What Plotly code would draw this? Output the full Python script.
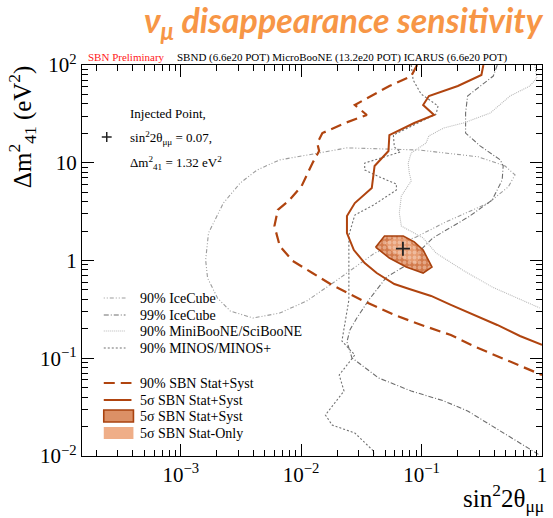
import plotly.graph_objects as go

# ---------------- data ----------------
# SBN 90% Stat+Syst (dashed)
sbn90_x = [0.0918, 0.082, 0.054, 0.0279, 0.0351, 0.0231, 0.0150, 0.0136, 0.0141, 0.0124, 0.0101, 0.0080,
           0.0064, 0.0060, 0.00664, 0.00849, 0.0124, 0.0181, 0.0318, 0.0594, 0.105, 0.175, 0.270, 0.425, 0.619, 1.0]
sbn90_y = [100, 77, 61, 39, 30.8, 25.5, 20.1, 15.9, 13.2, 9.9, 5.8, 4.16,
           3.29, 2.25, 1.41, 0.99, 0.745, 0.561, 0.394, 0.277, 0.214, 0.173, 0.133, 0.105, 0.0853, 0.0674]

# SBN 5 sigma Stat+Syst (solid)
sbn5_x = [0.326, 0.314, 0.200, 0.115, 0.103, 0.127, 0.0869, 0.054, 0.0531, 0.0407, 0.0386, 0.0279, 0.0240,
          0.0240, 0.0274, 0.0337, 0.0424, 0.0594, 0.0791, 0.120, 0.175, 0.291, 0.425, 0.656, 1.0]
sbn5_y = [100, 79, 61, 48.2, 39, 30.8, 25.5, 19.2, 13.2, 9.27, 5.52, 3.87, 2.85,
          1.91, 1.28, 0.942, 0.745, 0.575, 0.511, 0.434, 0.351, 0.270, 0.219, 0.169, 0.137]

# 5 sigma allowed regions around the injected point
statsyst_x = [0.0415, 0.0492, 0.0705, 0.0869, 0.103, 0.122, 0.103, 0.0746, 0.054, 0.044, 0.0415]
statsyst_y = [1.37, 1.78, 1.78, 1.55, 1.28, 0.857, 0.745, 0.857, 1.06, 1.31, 1.37]
statonly_x = [0.0492, 0.0594, 0.0746, 0.0869, 0.0973, 0.0902, 0.0720, 0.0562, 0.0492]
statonly_y = [1.51, 1.70, 1.66, 1.41, 1.09, 0.92, 1.035, 1.25, 1.51]

inj_x = [0.07]
inj_y = [1.32]

# IceCube 90%
ic90_x = [0.0141, 0.00664, 0.0043, 0.00312, 0.00226, 0.00170, 0.00161, 0.00167, 0.00202, 0.00258, 0.00398,
          0.00664, 0.0111, 0.0199, 0.0407, 0.0902, 0.159, 0.358, 0.524, 0.597, 0.494, 0.296, 0.0955, 0.024, 0.0141]
ic90_y = [12.6, 10.7, 8.43, 6.21, 3.87, 1.91, 1.01, 0.662, 0.413, 0.304, 0.258,
          0.290, 0.385, 0.631, 1.19, 1.74, 2.48, 3.87, 5.65, 7.50, 9.27, 11.5, 13.5, 14.2, 12.6]

# IceCube 99%
ic99_x = [0.425, 0.394, 0.241, 0.232, 0.232, 0.308, 0.450, 0.476, 0.467, 0.425, 0.386, 0.245, 0.124, 0.0705,
          0.0512, 0.0364, 0.0290, 0.0254, 0.0240, 0.0264, 0.0440, 0.0820, 0.153, 0.241, 0.372, 0.619, 0.957]
ic99_y = [100, 77.1, 48.2, 32.3, 20.1, 14.8, 10.7, 9.27, 6.67, 5.26, 4.16, 2.79, 1.70, 0.857,
          0.678, 0.394, 0.258, 0.195, 0.147, 0.101, 0.0628, 0.0462, 0.0366, 0.0289, 0.0207, 0.0142, 0.0102]

# MiniBooNE/SciBooNE 90%
mb_x = [0.871, 0.906, 0.792, 0.543, 0.372, 0.223, 0.153, 0.115, 0.109, 0.082, 0.0774, 0.0791, 0.082,
        0.0679, 0.0653, 0.0679, 0.103, 0.132, 0.219, 0.386, 0.957]
mb_y = [100, 73.6, 60.9, 48.2, 32.3, 25.5, 22.7, 18.8, 15.9, 12.6, 9.93, 7.85, 6.51,
        4.57, 3.06, 2.25, 1.70, 1.19, 0.80, 0.535, 0.327]

# MINOS/MINOS+ 90%
minos_x = [0.082, 0.0851, 0.0991, 0.137, 0.132, 0.0583, 0.0594, 0.0667, 0.0337, 0.0337, 0.0448, 0.0618, 0.0618,
           0.0400, 0.0279, 0.0249, 0.0249, 0.0218, 0.0279, 0.0207, 0.0227, 0.0159, 0.0181, 0.0279, 0.0400, 0.0400]
minos_y = [100, 70.3, 50.5, 38.1, 31.5, 19.2, 14.5, 12.9, 9.93, 8.43, 7.15, 6.06, 5.26,
           3.70, 2.92, 1.82, 0.394, 0.150, 0.108, 0.0674, 0.0462, 0.0263, 0.0207, 0.0172, 0.0112, 0.0100]

x_tickvals = [1e-3, 1e-2, 1e-1, 1]
x_ticktext = ["10<sup>\u22123</sup>", "10<sup>\u22122</sup>", "10<sup>\u22121</sup>", "1"]
y_tickvals = [1e-2, 1e-1, 1, 10, 100]
y_ticktext = ["10<sup>\u22122</sup>", "10<sup>\u22121</sup>", "1", "10", "10<sup>2</sup>"]

legend_labels = ["90% IceCube", "99% IceCube", "90% MiniBooNE/SciBooNE", "90% MINOS/MINOS+",
                 "90% SBN Stat+Syst", "5\u03c3 SBN Stat+Syst", "5\u03c3 SBN Stat+Syst", "5\u03c3 SBN Stat-Only"]

# ---------------- styling ----------------
SBN = "#B0440F"
SERIF = "Liberation Serif"
W, H = 553, 518
ML, MR, MT, MB = 82, 6, 65, 62
PW, PH = W - ML - MR, H - MT - MB


def px(x):
    return (x - ML) / PW


def py(y):
    return (H - MB - y) / PH


fig = go.Figure()

gray_styles = [
    (ic90_x, ic90_y, "#9c9c9c", "1px,2px,1px,2px,4px,2px", 1.1),
    (ic99_x, ic99_y, "#6e6e6e", "5px,2px,1px,2px", 1.1),
    (mb_x, mb_y, "#b8b8b8", "1px,1px", 1.1),
    (minos_x, minos_y, "#707070", "2px,2px", 1.1),
]
for xs, ys, col, dash, w in gray_styles:
    fig.add_trace(go.Scatter(x=xs, y=ys, mode="lines", line=dict(color=col, dash=dash, width=w),
                             showlegend=False, hoverinfo="skip"))

fig.add_trace(go.Scatter(x=sbn90_x, y=sbn90_y, mode="lines",
                         line=dict(color=SBN, width=2.2, dash="11px,6px"), showlegend=False))
fig.add_trace(go.Scatter(x=sbn5_x, y=sbn5_y, mode="lines",
                         line=dict(color=SBN, width=2.0), showlegend=False))

fig.add_trace(go.Scatter(x=statsyst_x, y=statsyst_y, mode="lines", fill="toself",
                         line=dict(color="#A8420F", width=1.6),
                         fillpattern=dict(shape=".", bgcolor="#D27A4C", fgcolor="#F6D2BC", size=5, solidity=0.45),
                         showlegend=False))
fig.add_trace(go.Scatter(x=statonly_x, y=statonly_y, mode="lines", fill="toself",
                         line=dict(width=0, color="rgba(0,0,0,0)"),
                         fillpattern=dict(shape=".", bgcolor="#E59A70", fgcolor="#F8DCCB", size=5, solidity=0.45),
                         showlegend=False))
fig.add_trace(go.Scatter(x=inj_x, y=inj_y, mode="markers",
                         marker=dict(symbol="cross-thin", size=10, line=dict(color="#222222", width=1.8)),
                         showlegend=False))

annotations = []
shapes = []

# title & header texts
annotations.append(dict(text="<b><i>\u03bd<sub>\u03bc</sub> disappearance sensitivity</i></b>",
                        x=px(347), y=py(22), xref="paper", yref="paper", xanchor="center", yanchor="middle",
                        showarrow=False, font=dict(family="Lato", size=34, color="#F79646")))
annotations.append(dict(text="SBN Preliminary", x=px(86), y=py(57), xref="paper", yref="paper",
                        xanchor="left", yanchor="middle", showarrow=False,
                        font=dict(family=SERIF, size=11, color="#FF2020")))
annotations.append(dict(text="SBND (6.6e20 POT) MicroBooNE (13.2e20 POT) ICARUS (6.6e20 POT)",
                        x=px(176), y=py(57), xref="paper", yref="paper", xanchor="left", yanchor="middle",
                        showarrow=False, font=dict(family=SERIF, size=11, color="black")))

# axis titles
annotations.append(dict(text="\u0394m<sup>2</sup><sub>41</sub> (eV<sup>2</sup>)", x=px(22), y=py(63),
                        xref="paper", yref="paper", xanchor="center", yanchor="top", textangle=-90,
                        showarrow=False, font=dict(family=SERIF, size=25, color="black")))
annotations.append(dict(text="sin<sup>2</sup>2\u03b8<sub>\u03bc\u03bc</sub>", x=px(551), y=py(498),
                        xref="paper", yref="paper", xanchor="right", yanchor="middle",
                        showarrow=False, font=dict(family=SERIF, size=25, color="black")))

# injected point text block
inj_lines = ["Injected Point,", "sin<sup>2</sup>2\u03b8<sub>\u03bc\u03bc</sub> = 0.07,",
             "\u0394m<sup>2</sup><sub>41</sub> = 1.32 eV<sup>2</sup>"]
for i, t in enumerate(inj_lines):
    annotations.append(dict(text=t, x=px(129), y=py(113 + 25 * i), xref="paper", yref="paper",
                            xanchor="left", yanchor="middle", showarrow=False,
                            font=dict(family=SERIF, size=13, color="black")))
shapes.append(dict(type="line", xref="paper", yref="paper", x0=px(102), x1=px(112), y0=py(137), y1=py(137),
                   line=dict(color="#222222", width=1.5)))
shapes.append(dict(type="line", xref="paper", yref="paper", x0=px(107), x1=px(107), y0=py(132), y1=py(142),
                   line=dict(color="#222222", width=1.5)))

# manual legend
rows = [298, 315, 331, 348, 383, 400, 416, 433]
for i, lab in enumerate(legend_labels):
    annotations.append(dict(text=lab, x=px(139), y=py(rows[i]), xref="paper", yref="paper",
                            xanchor="left", yanchor="middle", showarrow=False,
                            font=dict(family=SERIF, size=14, color="black")))
for i, (xs, ys, col, dash, w) in enumerate(gray_styles):
    shapes.append(dict(type="line", xref="paper", yref="paper", x0=px(104), x1=px(126),
                       y0=py(rows[i]), y1=py(rows[i]), line=dict(color=col, dash=dash, width=w)))
shapes.append(dict(type="line", xref="paper", yref="paper", x0=px(104), x1=px(132), y0=py(rows[4]),
                   y1=py(rows[4]), line=dict(color=SBN, width=2.2, dash="11px,6px")))
shapes.append(dict(type="line", xref="paper", yref="paper", x0=px(104), x1=px(132), y0=py(rows[5]),
                   y1=py(rows[5]), line=dict(color=SBN, width=2.0)))
shapes.append(dict(type="rect", xref="paper", yref="paper", x0=px(104), x1=px(134), y0=py(rows[6] - 6),
                   y1=py(rows[6] + 6), line=dict(color="#A8420F", width=1.6), fillcolor="#DC9066"))
shapes.append(dict(type="rect", xref="paper", yref="paper", x0=px(104), x1=px(134), y0=py(rows[7] - 6),
                   y1=py(rows[7] + 6), line=dict(width=0), fillcolor="#EFAE88"))

minor_vals = [m * 10 ** e for e in range(-4, 3) for m in range(2, 10)]

axis_common = dict(type="log", ticks="inside", ticklen=12, tickwidth=1, tickcolor="black",
                   showline=True, linecolor="black", linewidth=1.2, mirror="ticks", showgrid=False,
                   zeroline=False, tickfont=dict(family=SERIF, size=21, color="black"),
                   minor=dict(ticks="inside", ticklen=6, tickcolor="black", tickvals=minor_vals, showgrid=False))

fig.update_layout(
    width=W, height=H, margin=dict(l=ML, r=MR, t=MT, b=MB),
    plot_bgcolor="white", paper_bgcolor="white",
    xaxis=dict(range=[-3.82, 0.0], tickvals=x_tickvals, ticktext=x_ticktext, **axis_common),
    yaxis=dict(range=[-2, 2], tickvals=y_tickvals, ticktext=y_ticktext, **axis_common),
    annotations=annotations, shapes=shapes, showlegend=False,
)

fig.write_html("out.html")
